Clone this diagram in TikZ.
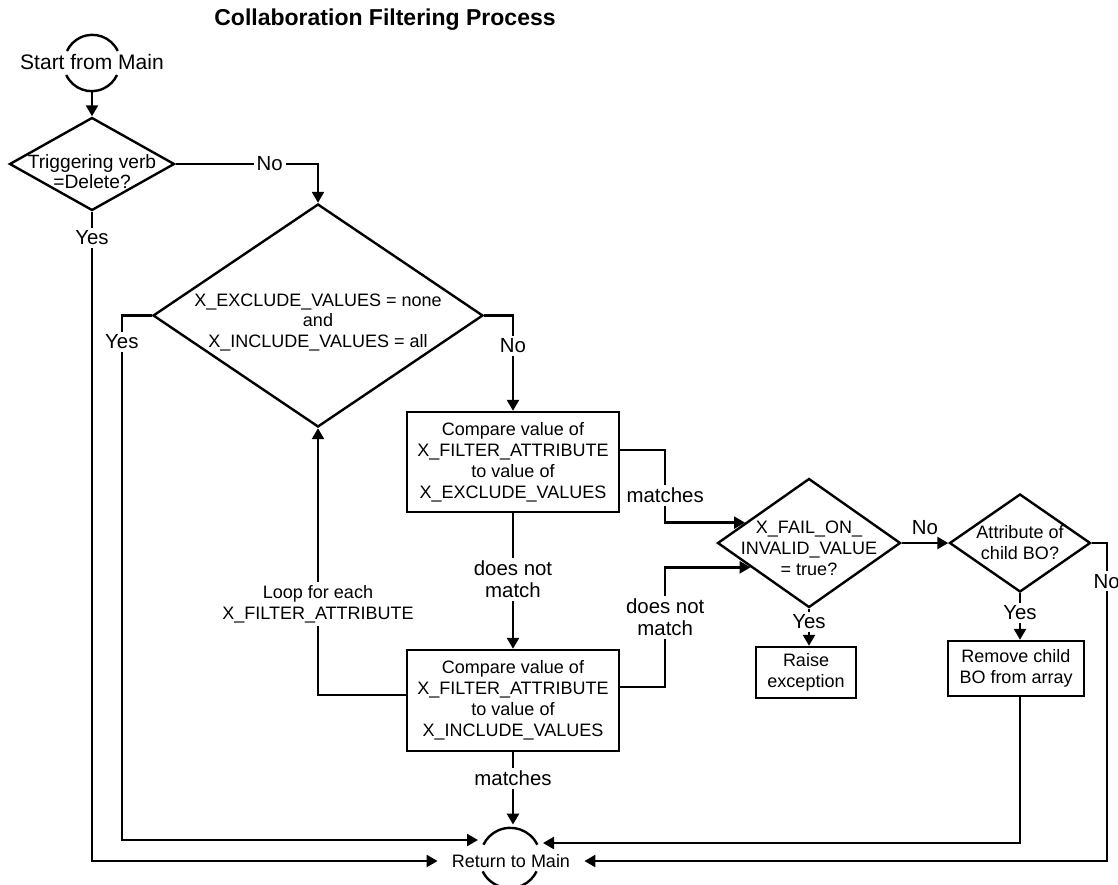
\documentclass[tikz,border=0pt]{standalone}
\usepackage{fontspec}
\setmainfont{Liberation Sans}
\usepackage{tikz}
\usetikzlibrary{positioning, arrows.meta, shapes.geometric, calc}

\begin{document}
\begin{tikzpicture}[
  x=0.5pt, y=-0.5pt,
  proc/.style={
    rectangle, draw, line width=1.2pt, inner sep=0pt,
    align=center, font=\fontsize{9}{10.5}\selectfont
  },
  decision/.style={diamond, draw, line width=1.2pt, inner sep=0pt},
  dtext/.style={align=center, inner sep=0pt, font=\fontsize{9}{10.5}\selectfont},
  ends/.style={circle, inner sep=0pt, minimum size=#1},
  arcline/.style={line width=1.2pt},
  flow/.style={line width=1.2pt, -{Triangle[length=5.5pt, width=6pt]}},
  lbl/.style={fill=white, inner sep=1.5pt, align=center,
    font=\fontsize{10.2}{11}\selectfont},
]
\useasboundingbox (0,0) rectangle (1118,884);

% Title
\node[font=\fontsize{11.5}{13}\selectfont\bfseries] (title) at (385,20)
  {Collaboration Filtering Process};

% Start terminal
\node[ends=28pt] (startc) at (92,63) {};
\node[inner sep=0pt, font=\fontsize{10.5}{12}\selectfont] (starttxt) at (92,62)
  {Start from Main};
\draw[arcline] (startc.25) arc[start angle=25, end angle=155, radius=14pt];
\draw[arcline] (startc.205) arc[start angle=205, end angle=335, radius=14pt];

% Return terminal
\node[ends=30pt] (retc) at (510,858) {};
\node[inner ysep=0pt, inner xsep=7pt, font=\fontsize{9}{10.5}\selectfont] (rettxt)
  at (511,861) {Return to Main};
\draw[arcline] (retc.26) arc[start angle=26, end angle=154, radius=15pt];
\draw[arcline] (retc.206) arc[start angle=206, end angle=334, radius=15pt];
\coordinate (retL) at ([xshift=-16pt, yshift=9pt]retc.center);
\coordinate (retR) at ([xshift=16.5pt, yshift=7.5pt]retc.center);

% Decisions
\node[decision, minimum width=82.5pt, minimum height=46.5pt] (trig) at (92,164) {};
\node[dtext, font=\fontsize{9.6}{10}\selectfont] (trigtxt)
  at ([yshift=-4pt]trig.center) {Triggering verb\\=Delete?};

\node[decision, minimum width=165pt, minimum height=111.5pt] (filt) at (318,315.5) {};
\node[dtext, font=\fontsize{9}{10.25}\selectfont] (filttxt)
  at ([yshift=-3.25pt]filt.center)
  {X\_EXCLUDE\_VALUES = none\\and\\X\_INCLUDE\_VALUES = all};

\node[decision, minimum width=91.5pt, minimum height=64.5pt] (fail) at (809,543) {};
\node[dtext] (failtxt) at ([yshift=-2.5pt]fail.center)
  {X\_FAIL\_ON\_\\INVALID\_VALUE\\= true?};

\node[decision, minimum width=70.5pt, minimum height=49pt] (attr) at (1020,543) {};
\node[dtext] (attrtxt) at (attr.center) {Attribute of\\child BO?};

\coordinate (failA) at ($(fail.west)!0.31!(fail.north)$);
\coordinate (failB) at ($(fail.west)!0.37!(fail.south)$);

% Process boxes
\node[proc, minimum width=106pt, minimum height=50pt] (cmpx) at (513,462)
  {Compare value of\\X\_FILTER\_ATTRIBUTE\\to value of\\X\_EXCLUDE\_VALUES};
\node[proc, minimum width=106pt, minimum height=50.5pt] (cmpi) at (513,700.5)
  {Compare value of\\X\_FILTER\_ATTRIBUTE\\to value of\\X\_INCLUDE\_VALUES};
\node[proc, minimum width=50pt, minimum height=25.5pt] (raise) at (806,672.5)
  {Raise\\exception};
\node[proc, minimum width=68pt, minimum height=27.5pt] (rem) at (1016,668.5)
  {Remove child\\BO from array};

% Connectors
\draw[flow] (startc.south) -- (trig.north);
\draw[flow] (trig.east) -| node[lbl, pos=0.33]{No} (filt.north);
\draw[flow] (trig.south) -- node[lbl, pos=0.04]{Yes} (trig.south |- rettxt.west)
  -- (rettxt.west);
\draw[flow] (filt.west) -- ++(-30,0) coordinate (fyes)
  -- node[lbl, pos=0.05]{Yes} (fyes |- retL) -- (retL);
\draw[flow] (filt.east) -| node[lbl, pos=0.66]{No} (cmpx.north);
\draw[flow] (cmpx.south) -- node[lbl, pos=0.49]{does not\\match} (cmpi.north);
\draw[flow] ([yshift=6pt]cmpx.east) -- ++(45,0)
  |- node[lbl, pos=0.31]{matches} (failA);
\draw[flow] ([yshift=6.75pt]cmpi.east) -- ++(45,0)
  |- node[lbl, pos=0.29]{does not\\match} (failB);
\draw[flow] ([yshift=2.75pt]cmpi.west)
  -| node[lbl, pos=0.67, font=\fontsize{9}{10.5}\selectfont]
  {Loop for each\\X\_FILTER\_ATTRIBUTE} (filt.south);
\draw[flow] (cmpi.south) -- node[lbl, pos=0.36]{matches}
  ([yshift=1.5pt]cmpi.south |- retc.north);
\draw[flow] (fail.east) -- node[lbl, fill=none, above=2pt]{No} (attr.west);
\draw[flow] (fail.south) -- node[lbl, pos=0.36]{Yes} (fail.south |- raise.north);
\draw[flow] (attr.south) -- node[lbl, pos=0.42]{Yes} (attr.south |- rem.north);
\draw[flow] (attr.south |- rem.south) |- (retR);
\draw[flow] (attr.east) -- ++(15,0) coordinate (nright)
  -- node[lbl, pos=0.12]{No} (nright |- rettxt.east) -- (rettxt.east);

\end{tikzpicture}
\end{document}
